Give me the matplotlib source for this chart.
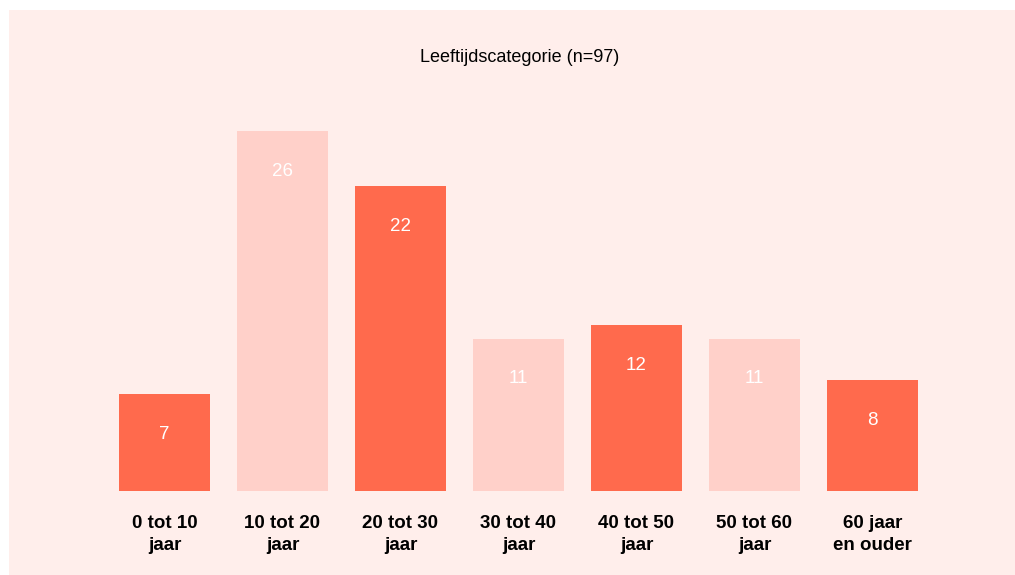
import numpy as np
import matplotlib.pyplot as plt
from matplotlib.patches import Rectangle

categories = ["0 tot 10\njaar", "10 tot 20\njaar", "20 tot 30\njaar", "30 tot 40\njaar",
              "40 tot 50\njaar", "50 tot 60\njaar", "60 jaar\nen ouder"]
counts = [7, 26, 22, 11, 12, 11, 8]
title = "Leeftijdscategorie (n=97)"

dark = "#FF6A4D"
light = "#FFD0C9"
bg = "#FFEEEB"
fam = ["Liberation Sans", "DejaVu Sans"]

W, H = 1015, 575
fig = plt.figure(figsize=(W / 100, H / 100), dpi=100)
fig.patch.set_facecolor("white")
fig.add_artist(Rectangle((9 / W, 0), 1, 1 - 10 / H, transform=fig.transFigure,
                         facecolor=bg, edgecolor="none", zorder=0))

# axes placed so bars land where they are in the reference
left, right = 105.5, 931.5
base, top = 491, 491 - 30 * 13.85
ax = fig.add_axes([left / W, 1 - base / H, (right - left) / W, (base - top) / H])
ax.set_facecolor("none")

x = np.arange(len(counts))
colors = [dark if i % 2 == 0 else light for i in x]
ax.bar(x, counts, width=0.77, color=colors)
ax.set_xlim(-0.5, len(counts) - 0.5)
ax.set_ylim(0, 30)

for xi, v in zip(x, counts):
    ax.annotate(str(v), (xi, v), xytext=(0, -29), textcoords="offset points",
                ha="center", va="center", color="white", fontsize=13.5, family=fam)

ax.set_xticks(x)
ax.set_xticklabels(categories, fontsize=13.5, fontweight="bold", family=fam,
                   linespacing=1.4)
ax.tick_params(axis="x", length=0, pad=17)
ax.set_yticks([])
for s in ax.spines.values():
    s.set_visible(False)

fig.text(520 / W, 1 - 57 / H, title, ha="center", va="center", fontsize=13, family=fam)

fig.savefig("out.png", dpi=100)
